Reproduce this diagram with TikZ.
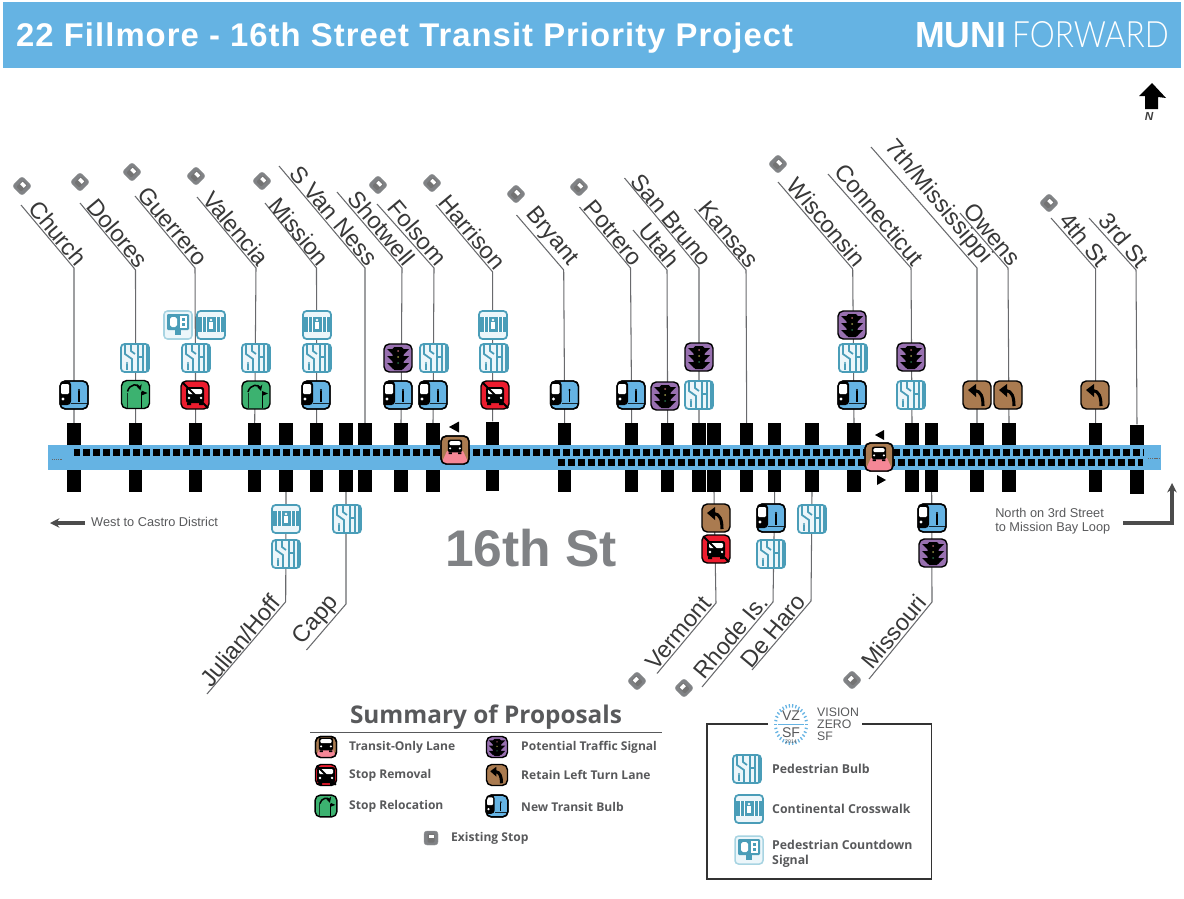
\documentclass[tikz,border=0pt]{standalone}
\usepackage{fontspec}
\setmainfont{Liberation Sans}
\newfontfamily\titlefont[LetterSpace=3.2]{Liberation Sans}
\newfontfamily\legendfont{Open Sans}
\newfontfamily\lightfont{Lato Light}
\usetikzlibrary{positioning,arrows.meta}
\definecolor{bandblue}{RGB}{101,179,227}
\definecolor{stopgreen}{RGB}{60,178,112}
\definecolor{stopred}{RGB}{237,28,46}
\definecolor{signalpurple}{RGB}{152,112,176}
\definecolor{turnbrown}{RGB}{170,123,80}
\definecolor{lanepink}{RGB}{245,135,150}
\definecolor{walkteal}{RGB}{74,157,184}
\definecolor{walkpale}{RGB}{236,246,250}
\definecolor{signalpale}{RGB}{168,212,226}
\definecolor{textgray}{RGB}{88,89,91}
\definecolor{bigrgray}{RGB}{128,130,133}
\definecolor{leadgray}{RGB}{105,106,109}
\tikzset{
    icobox/.style={draw=black, line width=1.2pt, rounded corners=4.5pt},
    walkbox/.style={draw=walkteal, line width=1.5pt, fill=walkpale, rounded corners=3pt},
    busshape/.pic={
        \fill[black, rounded corners=2pt] (-9,-8) rectangle (9,8);
        \fill[white, rounded corners=1pt] (-7,-6) rectangle (7,-1);
        \fill[white] (-6,3) circle (1.4) (6,3) circle (1.4);
        \fill[black] (-8,8) rectangle (-4,10) (4,8) rectangle (8,10);
    },
    newbulb/.pic={
        \path[icobox, fill=bandblue] (-14,-14) rectangle (14,14);
        \begin{scope}
            \clip[rounded corners=4.5pt] (-14,-14) rectangle (14,14);
            \fill[black, rounded corners=3pt] (-17,-14) rectangle (-3,10);
            \fill[white, rounded corners=1pt] (-13,-11) rectangle (-5,-1);
            \fill[white] (-11,4) circle (1.6);
        \end{scope}
        \fill[black] (5,-5) circle (1.1);
        \draw[black, line width=.9pt] (5,-4) -- (5,7);
        \draw[black!80!bandblue, line width=.8pt] (-3,8.5) -- (14,8.5);
        \path[icobox] (-14,-14) rectangle (14,14);
    },
    relocate/.pic={
        \path[icobox, fill=stopgreen] (-14,-14) rectangle (14,14);
        \draw[black!70!stopgreen, line width=.7pt] (-8,13) -- (-8,-2);
        \draw[-{Stealth[length=5pt,width=5pt]}, black, line width=1.3pt] (-8,-3) .. controls (-6,-11) and (3,-11) .. (5,-4);
        \draw[black, line width=.7pt] (6,13) -- (6,-3);
        \fill[black] (6,-4) -- (12,-1.5) -- (6,1) -- cycle;
    },
    removal/.pic={
        \path[icobox, fill=stopred] (-14,-14) rectangle (14,14);
        \pic {busshape};
        \draw[black, line width=1.8pt] (-12,-12) -- (13,13);
    },
    newsignal/.pic={
        \path[icobox, fill=signalpurple] (-14,-14) rectangle (14,14);
        \fill[black, rounded corners=1.5pt] (-5.5,-11) rectangle (5.5,12);
        \foreach \wy in {-9,-2,5} {
            \fill[black] (-5,\wy) -- (-11,\wy) -- (-5,\wy+6) -- cycle;
            \fill[black] (5,\wy) -- (11,\wy) -- (5,\wy+6) -- cycle;
        }
        \fill[lanepink!70!black] (0,-7) circle (1);
        \fill[yellow!55!black] (0,-1) circle (1);
        \fill[stopgreen!60!black] (0,5) circle (1);
    },
    leftturn/.pic={
        \path[icobox, fill=turnbrown] (-14,-14) rectangle (14,14);
        \draw[black, line width=2.6pt] (6,11) .. controls (6,2) and (4,-4) .. (-2,-4.5);
        \fill[black] (-9,-5) -- (-1,-11) -- (-1,2) -- cycle;
    },
    lanebus/.pic={
        \path[icobox, fill=turnbrown] (-14,-14) rectangle (14,14);
        \begin{scope}
            \clip[rounded corners=4.5pt] (-14,-14) rectangle (14,14);
            \fill[lanepink] (-8,1) -- (8,1) -- (14,14) -- (-14,14) -- cycle;
        \end{scope}
        \pic[scale=.8] at (0,-4) {busshape};
        \path[icobox] (-14,-14) rectangle (14,14);
    },
    pedbulb/.pic={
        \path[walkbox] (-14,-14) rectangle (14,14);
        \draw[walkteal, line width=1.5pt] (-10,-13) -- (-10,-4) -- (-3,1) -- (-3,13);
        \draw[walkteal, line width=1.5pt] (-4,-13) -- (-4,-7) -- (0,-4);
        \draw[walkteal, line width=1.5pt] (3,-13) -- (3,13) (8,-13) -- (8,13) (3,-1) -- (8,-1) (12,-13) -- (12,13);
        \fill[walkteal] (-8,5) circle (1.2);
        \draw[walkteal, line width=1.1pt] (-8,6) -- (-8,12);
    },
    crosswalk/.pic={
        \path[walkbox] (-14,-14) rectangle (14,14);
        \fill[walkteal] (-13,-8) rectangle (13,7);
        \foreach \sx in {-9,-5,5,9} {
            \draw[white, line width=.7pt] (\sx,-8) -- (\sx,7);
        }
        \fill[white] (0,-5) circle (1.3);
        \fill[white] (-1.8,-3) rectangle (1.8,4);
    },
    countdown/.pic={
        \path[draw=signalpale, line width=1.3pt, fill=walkpale, rounded corners=3pt] (-14,-14) rectangle (14,14);
        \fill[walkteal, rounded corners=1pt] (-11,-11) rectangle (11,5);
        \fill[walkteal] (-3,5) rectangle (3,10);
        \fill[white, rounded corners=1.5pt] (-8,-8) rectangle (-1,2);
        \draw[white, line width=.9pt] (3,-8) rectangle (8,-3) (3,-3) rectangle (8,2);
    },
    oldstop/.pic={
        \path[draw=bigrgray!80, fill=bigrgray, rounded corners=2.5pt] (-7,-7) rectangle (7,7);
        \fill[black!55, rounded corners=1pt] (-3.5,-4.5) rectangle (3.5,4.5);
        \fill[white] (-2.5,-3.5) rectangle (2.5,0);
    },
}
\begin{document}
\begin{tikzpicture}[x=0.03cm, y=-0.03cm, >=Stealth,
    leader/.style={draw=leadgray, line width=.9pt},
    stblock/.style={fill=black, minimum width=.405cm, minimum height=2.07cm, inner sep=0pt},
    stname/.style={font=\fontsize{20}{24}\selectfont, text=black!78, inner ysep=1pt, inner xsep=-1pt, anchor=south east},
    dashrow/.style={draw=black, line width=5.97pt, dash pattern=on 5.97pt off 2.56pt},
    legendtext/.style={font=\legendfont\bfseries\fontsize{10.3}{12}\selectfont, text=textgray, anchor=west, inner sep=0pt},
    boxtext/.style={font=\legendfont\bfseries\fontsize{10.5}{13}\selectfont, text=textgray, anchor=west, inner sep=0pt, align=left},
    notetext/.style={font=\fontsize{10.9}{12.2}\selectfont, text=textgray, anchor=west, inner sep=0pt, align=left},
    logotext/.style={text=textgray, inner sep=0pt},
    heavyarrow/.style={-{Stealth[length=8pt,width=8pt]}, draw=black!70, line width=2.6pt}]
    \useasboundingbox (0,0) rectangle (1184,898);

    % Title bar
    \fill[bandblue] (3,2) rectangle (1181,68);
    \node[font=\titlefont\bfseries\fontsize{28}{31}\selectfont, text=white, anchor=west, inner sep=0pt] (title) at (16,38) {22 Fillmore - 16th Street Transit Priority Project};
    \node[font=\bfseries\fontsize{31}{34}\selectfont, text=white, anchor=west, inner sep=0pt, xscale=.98] (muni) at (915,35) {MUNI};
    \node[font=\lightfont\fontsize{31}{34}\selectfont, text=white, anchor=west, inner sep=0pt, xscale=.87] (forward) at (1012,35) {FORWARD};

    % North arrow
    \fill[black] (1152,83) -- (1166,98) -- (1158,97) -- (1158,109) -- (1145,109) -- (1145,96) -- (1139,96) -- cycle;
    \node[font=\itshape\bfseries\fontsize{10}{11}\selectfont, text=black!75, inner sep=0pt] (north) at (1149,116) {N};

    % Cross streets above
    \foreach \id/\bx/\by/\kx/\ky/\tx/\ty/\lbl in {
        church/74/457.5/74/268/21/205/Church,
        dolores/135.7/457.5/135.5/270/80/203/Dolores,
        guerrero/195.7/457.5/195/268/135/196/Guerrero,
        valencia/254.7/457.5/256/268/197/197/Valencia,
        mission/316.7/457.5/316.5/268/265/203/Mission,
        vanness/365/457.5/365/268/279/166/S Van Ness,
        shotwell/401/457.5/402/268/337/192/Shotwell,
        folsom/433/457.5/434/268/377/204/Folsom,
        harrison/492.7/456/492.7/272/436/205/Harrison,
        bryant/564.7/457.5/563.7/270/516.5/215/Bryant,
        potrero/631.7/457.5/630.5/268/579.5/207/Potrero,
        utah/667.7/457.5/667/270/633/230/Utah,
        sanbruno/699/457.5/699/268/624.5/178/San Bruno,
        kansas/746.7/457.5/746/270/694.5/209/Kansas,
        wisconsin/854/457.5/852.7/269/778/182/Wisconsin,
        connecticut/912/457.5/911/268/828/174/Connecticut,
        seventh/977/457.5/977/268/871/147/{7th/Mississippi},
        owens/1009/457.5/1008/268/960/213/Owens,
        fourth/1095.7/457.5/1095.7/269/1051/218/4th St,
        third/1137/459/1136/270/1089/218/3rd St} {
        \node[stblock] (b\id) at (\bx,\by) {};
        \coordinate (k\id) at (\kx,\ky);
        \coordinate (t\id) at (\tx,\ty);
        \draw[leader] (b\id.north) -- (k\id) -- (t\id);
        \node[stname, rotate=-50] (n\id) at (k\id) {\lbl};
    }

    % Cross streets below
    \foreach \id/\bx/\kx/\ky/\tx/\ty/\lbl in {
        julian/286/285.7/601.7/207/694/{Julian/Hoff},
        capp/346/346/604/306.5/650/Capp,
        vermont/714/716/603/657/673.5/Vermont,
        rhode/774.7/773/602/702/687/Rhode Is.,
        deharo/812/811/601/752/670/De Haro,
        missouri/931.7/932/602/869/679/Missouri} {
        \node[stblock] (b\id) at (\bx,457.5) {};
        \coordinate (k\id) at (\kx,\ky);
        \coordinate (t\id) at (\tx,\ty);
        \draw[leader] (b\id.south) -- (k\id) -- (t\id);
        \node[stname, rotate=50, inner xsep=3pt] (n\id) at (k\id) {\lbl};
    }

    % 16th St with its two rows of stops
    \fill[bandblue] (48,445) rectangle (1161,470);
    \draw[dashrow] (73.5,452.7) -- (1143,452.7);
    \draw[dashrow] (558,462.7) -- (1143,462.7);
    \draw[black!60, line width=.7pt, dash pattern=on 1pt off .8pt] (52,459) -- (62,459);
    \draw[black!60, line width=.7pt, dash pattern=on 1pt off .8pt] (1148,458) -- (1160,458);
    \node[font=\bfseries\fontsize{44}{47}\selectfont, text=bigrgray, inner sep=0pt] (street) at (531,548) {16th St};

    % Existing stops
    \foreach \sx/\sy in {22/186,80/182,132/172,196/176,262/181,378/185,432/183,516/194,579/187,778/164,1049/203} {
        \pic[rotate=-45] at (\sx,\sy) {oldstop};
    }
    \foreach \sx/\sy in {637/681,684/688,852/680} {
        \pic[rotate=45] at (\sx,\sy) {oldstop};
    }

    % Proposals
    \foreach \px/\py in {74/395,316/395,398/395,433/395,564.5/395,631/395,852/395,771/518,932/518} {
        \pic at (\px,\py) {newbulb};
    }
    \foreach \px/\py in {135.5/394.5,256/395} {
        \pic at (\px,\py) {relocate};
    }
    \foreach \px/\py in {195/395,495/395,716/549} {
        \pic at (\px,\py) {removal};
    }
    \foreach \px/\py in {398/358,665/396,699/357,852/325,911/357,933/553} {
        \pic at (\px,\py) {newsignal};
    }
    \foreach \px/\py in {977/395,1008/395,1095/395,716/518} {
        \pic at (\px,\py) {leftturn};
    }
    \foreach \px/\py in {135/358,196/358,256/358,317/358,434/358,494/358,699/395,853/358,911/395,286/554,347/519,771/554,812/519} {
        \pic at (\px,\py) {pedbulb};
    }
    \foreach \px/\py in {211/325,317/325,493/325,286/519} {
        \pic at (\px,\py) {crosswalk};
    }
    \pic at (178,325) {countdown};
    \pic at (455,450) {lanebus};
    \pic at (879,457) {lanebus};

    % Direction marks beside the transit lanes
    \fill[black] (449,427) -- (459,421.5) -- (459,432.5) -- cycle;
    \fill[black] (875,435) -- (884,430) -- (884,440) -- cycle;
    \fill[black] (886,480) -- (877,475) -- (877,485) -- cycle;

    % Route notes
    \coordinate (westend) at (85,523);
    \coordinate (westtip) at (50,523);
    \draw[heavyarrow] (westend) -- (westtip);
    \node[notetext] (westnote) at (91,522) {West to Castro District};
    \node[notetext] (northnote) at (995,521.5) {North on 3rd Street\\to Mission Bay Loop};
    \coordinate (loopend) at (1123,523);
    \coordinate (loopturn) at (1172,523);
    \coordinate (looptip) at (1172,483);
    \draw[heavyarrow] (loopend) -- (loopturn) -- (looptip);

    % Summary of proposals
    \node[font=\legendfont\bfseries\fontsize{20.8}{24}\selectfont, text=textgray, inner sep=0pt] (summary) at (486,717) {Summary of Proposals};
    \draw[draw=textgray, line width=.9pt] (310,732.5) -- (662,732.5);
    \pic[scale=.75] at (326,747) {lanebus};
    \pic[scale=.75] at (326,775) {removal};
    \pic[scale=.78] at (326,806) {relocate};
    \pic[scale=.75] at (497,747) {newsignal};
    \pic[scale=.75] at (497,775) {leftturn};
    \pic[scale=.78] at (497,806) {newbulb};
    \pic at (431,838) {oldstop};
    \node[legendtext] (lglane) at (349,747.5) {Transit-Only Lane};
    \node[legendtext] (lgremoval) at (349,775) {Stop Removal};
    \node[legendtext] (lgreloc) at (349,806.5) {Stop Relocation};
    \node[legendtext] (lgsignal) at (521,747.5) {Potential Traffic Signal};
    \node[legendtext] (lgturn) at (521,775) {Retain Left Turn Lane};
    \node[legendtext] (lgbulb) at (521,806.5) {New Transit Bulb};
    \node[legendtext] (lgstop) at (451,838) {Existing Stop};

    % Vision Zero box
    \draw[draw=black!80, line width=1pt] (768,724) -- (707,724) -- (707,879) -- (931.5,879) -- (931.5,724) -- (862,724);
    \foreach \a in {0,12,...,348} {
        \draw[bandblue, line width=1.1pt] ({791+14*cos(\a)},{724.5+17*sin(\a)}) -- ({791+17*cos(\a)},{724.5+20.5*sin(\a)});
    }
    \draw[bandblue, line width=.8pt] (778,724.5) -- (804,724.5);
    \node[logotext, font=\fontsize{12}{13}\selectfont] (logovz) at (791,716) {VZ};
    \node[logotext, font=\fontsize{12}{13}\selectfont] (logosf) at (791,733) {SF};
    \node[logotext, font=\fontsize{4.5}{5}\selectfont] (logoyear) at (791,741.5) {2014};
    \node[logotext, anchor=west, font=\fontsize{10.5}{12}\selectfont] (logoa) at (817,712) {VISION};
    \node[logotext, anchor=west, font=\fontsize{10.5}{12}\selectfont] (logob) at (817,724.5) {ZERO};
    \node[logotext, anchor=west, font=\fontsize{10.5}{12}\selectfont] (logoc) at (817,736.5) {SF};
    \pic at (747,769) {pedbulb};
    \pic at (749,809) {crosswalk};
    \pic at (749,850) {countdown};
    \node[boxtext] (bxbulb) at (772,769) {Pedestrian Bulb};
    \node[boxtext] (bxwalk) at (772,809) {Continental Crosswalk};
    \node[boxtext] (bxcount) at (772,853.5) {Pedestrian Countdown\\Signal};
\end{tikzpicture}
\end{document}
